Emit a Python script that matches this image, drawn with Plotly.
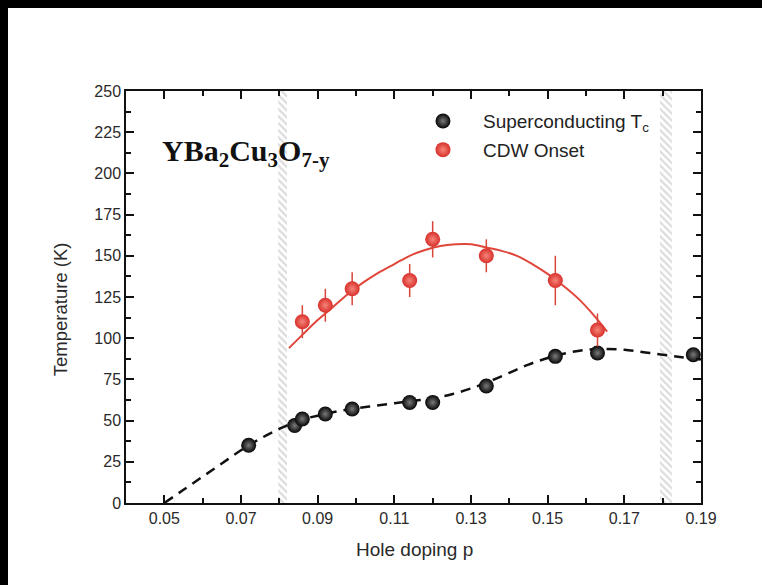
import plotly.graph_objects as go

# ---- data ----
tc_p = [0.072, 0.084, 0.086, 0.092, 0.099, 0.114, 0.120, 0.134, 0.152, 0.163, 0.188]
tc_T = [35, 47, 51, 54, 57, 61, 61, 71, 89, 91, 90]

cdw_p = [0.086, 0.092, 0.099, 0.114, 0.120, 0.134, 0.152, 0.163]
cdw_T = [110, 120, 130, 135, 160, 150, 135, 105]
cdw_err = [10, 10, 10, 10, 11, 10, 15, 10]

cdw_fit_p = [0.0825, 0.086, 0.090, 0.094, 0.098, 0.102, 0.106, 0.110, 0.114, 0.118, 0.122,
             0.126, 0.130, 0.134, 0.138, 0.142, 0.146, 0.150, 0.154, 0.158, 0.162, 0.1655]
cdw_fit_T = [94, 102, 111, 119, 127, 134, 140, 145, 150, 153.5, 156,
             157, 157, 155, 153, 150, 145, 139, 132, 124, 114, 104]

tc_fit_p = [0.050, 0.055, 0.060, 0.065, 0.070, 0.075, 0.080, 0.085, 0.090, 0.095, 0.100,
            0.105, 0.110, 0.115, 0.120, 0.125, 0.130, 0.135, 0.140, 0.145, 0.150, 0.155,
            0.160, 0.165, 0.170, 0.175, 0.180, 0.185, 0.190]
tc_fit_T = [0, 8, 16, 24, 32, 39, 45, 50, 53, 55.5, 57.5,
            59, 60.5, 62, 63.5, 66, 69.5, 74, 79, 84, 88, 91,
            93, 93.5, 93, 91.5, 90, 88.5, 87]

stripes = [(0.0797, 0.0820), (0.1793, 0.1824)]

x_range = [0.04, 0.19]
y_range = [0, 250]
x_ticks = [0.05, 0.07, 0.09, 0.11, 0.13, 0.15, 0.17, 0.19]
y_ticks = [0, 25, 50, 75, 100, 125, 150, 175, 200, 225, 250]

fig = go.Figure()

for a, b in stripes:
    fig.add_trace(go.Scatter(
        x=[a, b, b, a, a], y=[0, 0, 250, 250, 0], mode="lines", fill="toself",
        line=dict(width=0, color="rgba(0,0,0,0)"),
        fillcolor="white",
        fillpattern=dict(shape="\\", fgcolor="#b8b8b8", bgcolor="white", size=5, solidity=0.45),
        showlegend=False, hoverinfo="skip"))

fig.add_trace(go.Scatter(x=tc_fit_p, y=tc_fit_T, mode="lines", line=dict(color="#111", width=2.5, dash="10px,7px"),
                         line_shape="spline", showlegend=False, hoverinfo="skip"))
fig.add_trace(go.Scatter(x=cdw_fit_p, y=cdw_fit_T, mode="lines", line=dict(color="#e0463a", width=2),
                         line_shape="spline", showlegend=False, hoverinfo="skip"))

fig.add_trace(go.Scatter(
    x=tc_p, y=tc_T, mode="markers", name="Superconducting T<sub>c</sub>", legendgroup="a",
    marker=dict(size=15, color="#050505", line=dict(width=0),
                gradient=dict(type="radial", color="#7a7a7a"))))
fig.add_trace(go.Scatter(
    x=cdw_p, y=cdw_T, mode="markers", name="CDW Onset", legendgroup="b",
    error_y=dict(type="data", array=cdw_err, color="#d8453a", thickness=1.5, width=0),
    marker=dict(size=15, color="#d8302a", line=dict(width=0),
                gradient=dict(type="radial", color="#f5857a"))))

axis_common = dict(showline=True, linecolor="#111", linewidth=1.5, mirror="allticks", showgrid=False,
                   zeroline=False, ticks="inside", ticklen=8, tickwidth=1.5, tickcolor="#111",
                   tickfont=dict(family="Liberation Sans, Arial", size=16, color="#2a2a2a"))

fig.update_xaxes(range=x_range, tickvals=x_ticks, ticktext=[f"{v:.2f}" for v in x_ticks],
                 minor=dict(dtick=0.01, tick0=0.04, ticks="inside", ticklen=5, tickwidth=1.5, tickcolor="#111"),
                 **axis_common)
fig.update_yaxes(range=y_range, tickvals=y_ticks,
                 minor=dict(dtick=12.5, tick0=0, ticks="inside", ticklen=5, tickwidth=1.5, tickcolor="#111"),
                 **axis_common)

fig.add_annotation(text="Hole doping p", xref="paper", yref="paper", x=0.502, y=-0.114,
                   showarrow=False, font=dict(family="Liberation Sans, Arial", size=19, color="#2a2a2a"),
                   xanchor="center", yanchor="middle")
fig.add_annotation(text="Temperature (K)", xref="paper", yref="paper", x=-0.115, y=0.47,
                   showarrow=False, textangle=-90, font=dict(family="Liberation Sans, Arial", size=18.5, color="#2a2a2a"),
                   xanchor="center", yanchor="middle")
fig.add_annotation(text="<b>YBa<sub>2</sub>Cu<sub>3</sub>O<sub>7-y</sub></b>", xref="paper", yref="paper",
                   x=0.059, y=0.9, showarrow=False, xanchor="left", yanchor="top",
                   font=dict(family="Liberation Serif, DejaVu Serif", size=30, color="#111"))

# black frame bands (top and left)
fig.add_shape(type="rect", xref="paper", yref="paper", x0=-0.3, x1=1.2, y0=1 + 83 / 412, y1=1.3,
              fillcolor="black", line=dict(width=0), layer="above")
fig.add_shape(type="rect", xref="paper", yref="paper", x0=-0.3, x1=-118 / 575, y0=-0.3, y1=1.3,
              fillcolor="black", line=dict(width=0), layer="above")

fig.update_layout(
    width=762, height=585,
    margin=dict(l=126, r=61, t=91, b=82),
    paper_bgcolor="white", plot_bgcolor="white",
    legend=dict(x=0.4817, y=0.973, xanchor="left", yanchor="top", bgcolor="rgba(0,0,0,0)",
                font=dict(family="Liberation Sans, Arial", size=19, color="#222"),
                tracegroupgap=1, itemsizing="trace", itemwidth=70),
)

fig.write_html(
    "out.html",
    config={"displayModeBar": False},
    post_script=(
        "var s=document.createElement('style');"
        "s.textContent='html,body{margin:0;padding:0;overflow:hidden;background:#fff;}"
        "::-webkit-scrollbar{display:none;width:0;height:0;}';"
        "document.head.appendChild(s);"
    ),
)
